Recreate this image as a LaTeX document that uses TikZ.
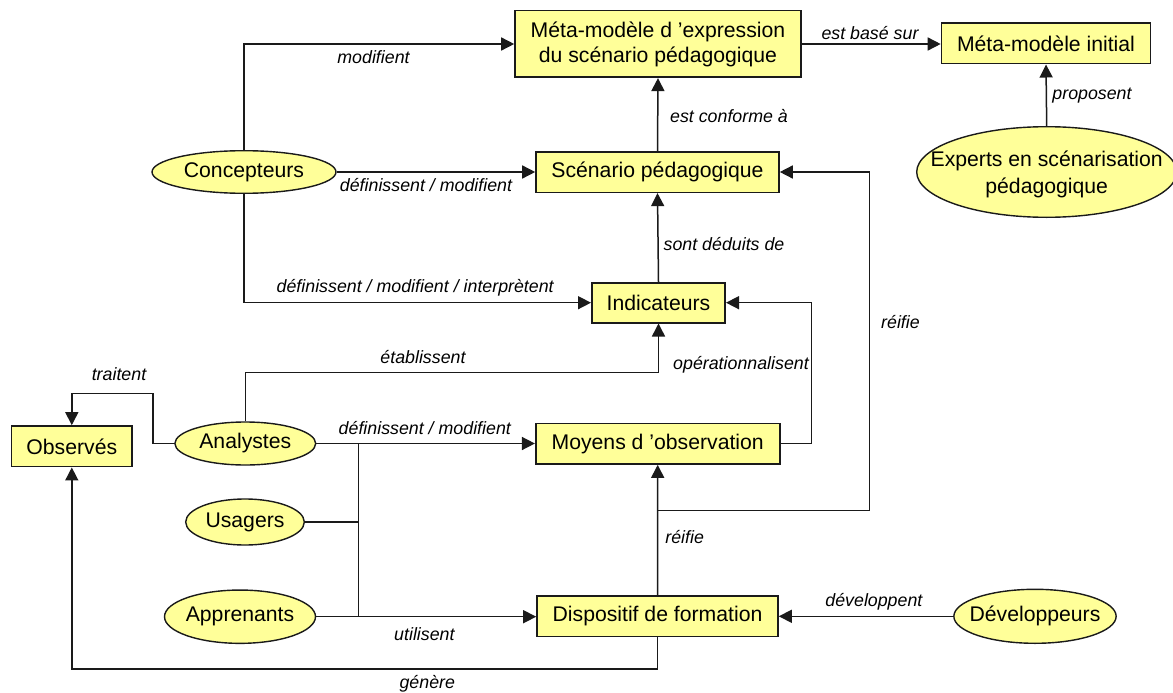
\documentclass[tikz,border=0pt]{standalone}
\usepackage{fontspec}
\setmainfont{Liberation Sans}
\usetikzlibrary{arrows.meta,shapes.geometric}
\definecolor{boxfill}{HTML}{FFFF99}
\definecolor{edge}{HTML}{1A1A1A}
\tikzset{
  box/.style={draw=edge,line width=1.6pt,fill=boxfill,rectangle,inner sep=0pt,align=center,font=\fontsize{21.2}{25}\selectfont},
  ell/.style={draw=edge,line width=1.4pt,fill=boxfill,ellipse,inner sep=0pt},
  etext/.style={font=\fontsize{21.2}{27}\selectfont,align=center},
  lab/.style={font=\fontsize{17.8}{20}\itshape,inner sep=0pt},
  conn/.style={draw=edge,line width=1.5pt},
  arr/.style={conn,-{Triangle[length=13pt,width=13pt]}}
}
\begin{document}
\begin{tikzpicture}[x=1pt,y=-1pt]
\useasboundingbox[fill=white] (0,0) rectangle (1173,693);
% boxes
\node[box,minimum width=286pt,minimum height=66.6pt] (meta) at (658,44) {Méta-modèle d ’expression\\du scénario pédagogique};
\node[box,minimum width=209pt,minimum height=40.4pt] (init) at (1046,43.5) {Méta-modèle initial};
\node[box,minimum width=243pt,minimum height=40.6pt] (scen) at (657.5,172) {Scénario pédagogique};
\node[box,minimum width=133.4pt,minimum height=40pt] (ind) at (658.5,302.7) {Indicateurs};
\node[box,minimum width=120.5pt,minimum height=40.7pt] (obs) at (71.8,446.3) {Observés};
\node[box,minimum width=244pt,minimum height=40.7pt] (moy) at (657.7,443.7) {Moyens d ’observation};
\node[box,minimum width=241pt,minimum height=40.7pt] (disp) at (657.5,616.3) {Dispositif de formation};
% ellipses
\node[ell,minimum width=184pt,minimum height=42.6pt,label={[etext,name=concT]center:Concepteurs}] (conc) at (244,172) {};
\node[ell,minimum width=260pt,minimum height=90.6pt,label={[etext,name=expT,yshift=-2pt]center:Experts en scénarisation\\pédagogique}] (exp) at (1046.7,172) {};
\node[ell,minimum width=140.8pt,minimum height=43pt,label={[etext,name=anaT]center:Analystes}] (ana) at (245.3,443.5) {};
\node[ell,minimum width=118.6pt,minimum height=46pt,label={[etext,name=usaT]center:Usagers}] (usa) at (245,522) {};
\node[ell,minimum width=151pt,minimum height=53.3pt,label={[etext,name=appT]center:Apprenants}] (app) at (240,616.7) {};
\node[ell,minimum width=162.3pt,minimum height=54pt,label={[etext,name=devT]center:Développeurs}] (dev) at (1035,616.3) {};
% helper coordinates
\coordinate (etY) at (400,372.3);
\coordinate (tr) at (153,393.3);
\coordinate (jx) at (358.6,500);
\coordinate (gY) at (400,669);
\coordinate (rx) at (869.6,510.3);
\coordinate (op) at (811.4,443.7);
% connectors
\draw[arr] (conc.north) |- (meta.west);
\draw[arr] (conc.east) -- (scen.west);
\draw[arr] (conc.south) |- (ind.west);
\draw[arr] (meta.east) -- (meta.east -| init.west);
\draw[arr] (exp.north) -- (init.south);
\draw[arr] (scen.north) -- (meta.south);
\draw[arr] (ind.north) -- (scen.south);
\draw[arr] (ana.north) -- (ana.north |- etY) -| (ind.south);
\draw[arr] (ana.west) -| (tr) -| (obs.north);
\draw[arr] (ana.east) -- (ana.east -| moy.west);
\draw[conn] (ana.east -| jx) -- (app.east -| jx);
\draw[conn] (usa.east) -- (usa.east -| jx);
\draw[arr] (app.east) -- (app.east -| disp.west);
\draw[arr] (disp.south) -- (disp.south |- gY) -| (obs.south);
\draw[arr] (disp.north) -- (moy.south);
\draw[arr] (disp.north |- rx) -- (rx) |- (scen.east);
\draw[arr] (moy.east) -- (op) |- (ind.east);
\draw[arr] (dev.west) -- (dev.west -| disp.east);
% labels
\node[lab] (l1) at (373.5,57.3) {modifient};
\node[lab] (l2) at (426,185) {définissent / modifient};
\node[lab] (l3) at (415.2,287.3) {définissent / modifient / interprètent};
\node[lab] (l4) at (870,33.3) {est basé sur};
\node[lab] (l5) at (1092,95.7) {proposent};
\node[lab] (l6) at (729,115.7) {est conforme à};
\node[lab] (l7) at (724,244.3) {sont déduits de};
\node[lab] (l8) at (900.5,321.7) {réifie};
\node[lab] (l9) at (119,374) {traitent};
\node[lab] (l10) at (423,356.7) {établissent};
\node[lab] (l11) at (424.8,428.3) {définissent / modifient};
\node[lab] (l12) at (424.4,634) {utilisent};
\node[lab] (l13) at (427.3,683.3) {génère};
\node[lab] (l14) at (741,365) {opérationnalisent};
\node[lab] (l15) at (684.7,536.7) {réifie};
\node[lab] (l16) at (873.9,601.7) {développent};
\end{tikzpicture}
\end{document}
